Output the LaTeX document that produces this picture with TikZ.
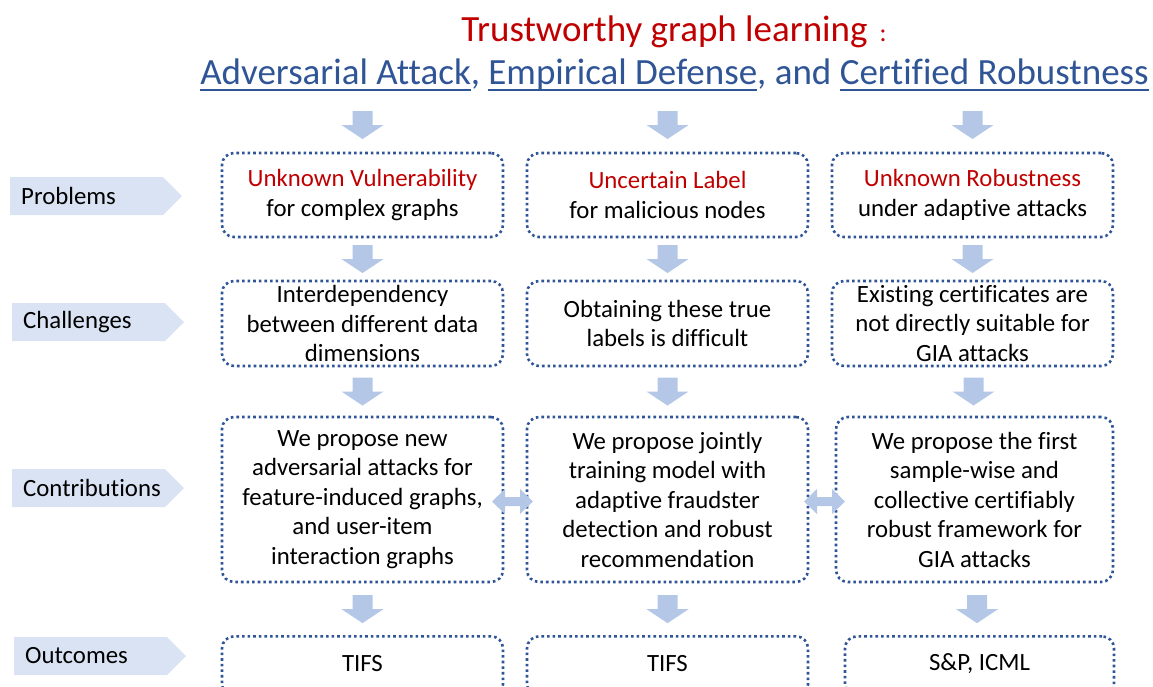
\documentclass[tikz,border=0pt]{standalone}
\usepackage{fontspec}
\setmainfont{Carlito}[Ligatures=NoCommon]
\usetikzlibrary{calc}
\definecolor{boxblue}{HTML}{2F5597}
\definecolor{arrowblue}{HTML}{B4C7E7}
\definecolor{tagblue}{HTML}{DAE3F3}
\definecolor{titlered}{HTML}{C00000}
\newcommand{\bodyfont}{\fontsize{24.8pt}{29.5pt}\selectfont}
\newcommand{\titlefont}{\fontsize{37pt}{44pt}\selectfont}
\newcommand{\hd}[1]{\textcolor{titlered}{#1}}
% underlined text with a fixed rule position
\newcommand{\ul}[1]{\leavevmode\setbox0\hbox{#1}\rlap{\rule[-6.5pt]{\wd0}{1.8pt}}\box0}
\tikzset{
  box/.style={draw=boxblue, line width=2.6pt, dash pattern=on 2.6pt off 3pt,
    rounded corners=12pt, minimum width=281pt, align=center, font=\bodyfont,
    inner sep=0pt},
  tagtext/.style={font=\bodyfont, anchor=west, inner sep=0pt},
  darrow/.pic={\fill[arrowblue] (-10,-14) -- (10,-14) -- (10,0) -- (21,0)
      -- (0,14) -- (-21,0) -- (-10,0) -- cycle;},
  lrarrow/.pic={\fill[arrowblue] (-20.5,0) -- (-7.5,-12.5) -- (-7.5,-4.5)
      -- (7.5,-4.5) -- (7.5,-12.5) -- (20.5,0) -- (7.5,12.5) -- (7.5,4.5)
      -- (-7.5,4.5) -- (-7.5,12.5) -- cycle;},
}
\newcommand{\tag}[4]{% name, left, centre y, text
  \fill[tagblue] (#2,#3-19) -- (#2+153,#3-19) -- (#2+172,#3) -- (#2+153,#3+19)
    -- (#2,#3+19) -- cycle;
  \node[tagtext] (#1) at (#2+11,#3) {#4};}
\begin{document}
\begin{tikzpicture}[x=1pt,y=-1pt]
\useasboundingbox (0,0) rectangle (1153,686);
\clip (0,0) rectangle (1153,686);

% title
\node[font=\titlefont, text=titlered, inner sep=0pt] (t1) at (674,32)
  {Trustworthy graph learning\,{\fontsize{26pt}{30pt}\selectfont\ :}};
\node[font=\titlefont, text=boxblue, inner sep=0pt, anchor=base] (t2) at (674.5,84)
  {\ul{Adversarial Attack}, \ul{Empirical Defense}, and \ul{Certified Robustness}};

% row labels
\tag{lp}{10}{196}{Problems}
\tag{lc}{12}{322}{Challenges}
\tag{lk}{12}{488}{Contributions}
\tag{lo}{14}{656}{Outcomes}

% problems
\node[box, minimum height=84pt] (p1) at (362.5,195) {\hd{Unknown Vulnerability}\\for complex graphs};
\node[box, minimum height=84pt] (p2) at (667.5,195) {\hd{Uncertain Label}\\for malicious nodes};
\node[box, minimum height=84pt] (p3) at (972.5,195) {\hd{Unknown Robustness}\\under adaptive attacks};

% challenges
\node[box, minimum height=85pt] (c1) at (362.5,323.5) {Interdependency\\between different data\\dimensions};
\node[box, minimum height=85pt] (c2) at (667.5,323.5) {Obtaining these true\\labels is difficult};
\node[box, minimum height=85pt] (c3) at (972.5,323.5) {Existing certificates are\\not directly suitable for\\GIA attacks};

% contributions
\node[box, minimum height=165pt] (k1) at (362.5,499.5) {We propose new\\adversarial attacks for\\feature-induced graphs,\\and user-item\\interaction graphs};
\node[box, minimum height=165pt] (k2) at (667.5,499.5) {We propose jointly\\training model with\\adaptive fraudster\\detection and robust\\recommendation};
\node[box, minimum height=165pt, minimum width=277pt] (k3) at (974.5,499.5) {We propose the first\\sample-wise and\\collective certifiably\\robust framework for\\GIA attacks};

% outcomes
\node[box, minimum height=60pt, anchor=north] (o1) at (362.5,635) {};
\node[box, minimum height=60pt, anchor=north] (o2) at (667.5,635) {};
\node[box, minimum height=60pt, minimum width=269pt, anchor=north] (o3) at (979.5,635) {};
\node[font=\bodyfont, inner sep=0pt] (o1t) at (362.5,664) {TIFS};
\node[font=\bodyfont, inner sep=0pt] (o2t) at (667.5,664) {TIFS};
\node[font=\bodyfont, inner sep=0pt] (o3t) at (979.5,664) {S\&P, ICML};

% flow arrows
\pic at (362.5,125) {darrow};
\pic at (667.5,125) {darrow};
\pic at (972.5,125) {darrow};
\foreach \a/\b in {p1/c1,p2/c2,p3/c3,c1/k1,c2/k2,c3/k3,k1/o1,k2/o2,k3/o3}
  \pic at ($(\a.south)!0.5!(\b.north)$) {darrow};
\pic at ($(k1.east)!0.5!(k2.west)+(-2.5,2)$) {lrarrow};
\pic at ($(k2.east)!0.5!(k3.west)+(2.5,2)$) {lrarrow};
\end{tikzpicture}
\end{document}
